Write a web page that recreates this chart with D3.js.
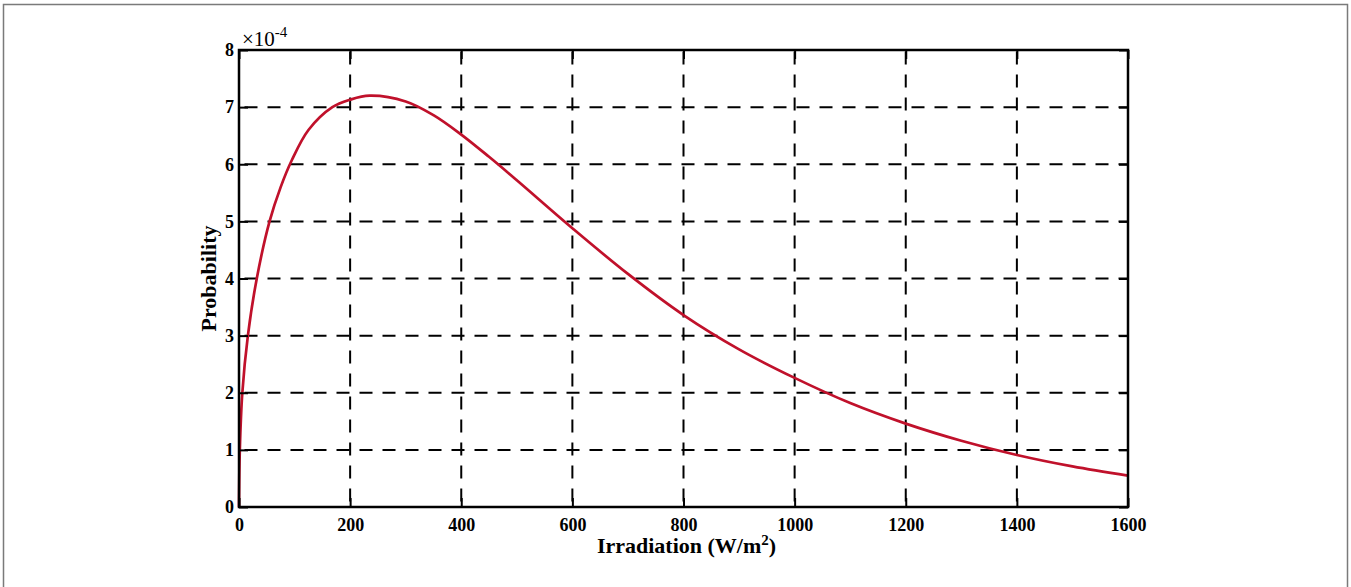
<!DOCTYPE html>
<html>
<head>
<meta charset="utf-8">
<script src="https://cdn.jsdelivr.net/npm/d3@7"></script>
<style>
  body { margin: 0; background: #fff; }
  text { font-family: "Liberation Serif", "Times New Roman", serif; }
</style>
</head>
<body>
<svg id="chart" width="1351" height="587"></svg>
<script>
// values (probability in units of 1e-4)
var irradiation = [0, 1.5, 6, 16, 32, 55, 75, 95, 125, 168, 200, 235, 300, 350, 400, 450, 500, 600, 700, 800, 900, 1000, 1100, 1200, 1300, 1400, 1500, 1600];
var probability = [0, 1, 2, 3, 4, 5, 5.6, 6.07, 6.6, 7.0, 7.13, 7.2, 7.1, 6.86, 6.52, 6.13, 5.72, 4.88, 4.08, 3.36, 2.76, 2.26, 1.82, 1.46, 1.16, 0.91, 0.71, 0.55];
var xTicks = [0, 200, 400, 600, 800, 1000, 1200, 1400, 1600];
var yTicks = [0, 1, 2, 3, 4, 5, 6, 7, 8];

var svg = d3.select("#chart"),
    width = +svg.attr("width"),
    height = +svg.attr("height");

var plotLeft = 239, plotRight = 1128, plotTop = 50, plotBottom = 507;

// outer frame of the figure
svg.append("rect")
    .attr("x", 3.5).attr("y", 4.5)
    .attr("width", width - 7).attr("height", height + 20)
    .attr("fill", "none")
    .attr("stroke", "#7a7a7a")
    .attr("stroke-width", 1.5);

var x = d3.scaleLinear().domain([0, 1600]).range([plotLeft, plotRight]);
var y = d3.scaleLinear().domain([0, 8]).range([plotBottom, plotTop]);

// dashed grid
var grid = svg.append("g")
    .attr("stroke", "#000")
    .attr("stroke-width", 2)
    .attr("stroke-dasharray", "13,10")
    .attr("stroke-dashoffset", 17.5);

grid.selectAll("line.gx")
    .data(xTicks.slice(1, -1))
    .enter().append("line")
    .attr("class", "gx")
    .attr("x1", function(d) { return x(d); })
    .attr("x2", function(d) { return x(d); })
    .attr("y1", plotBottom)
    .attr("y2", plotTop);

grid.selectAll("line.gy")
    .data(yTicks.slice(1, -1))
    .enter().append("line")
    .attr("class", "gy")
    .attr("x1", plotLeft)
    .attr("x2", plotRight)
    .attr("y1", function(d) { return y(d); })
    .attr("y2", function(d) { return y(d); });

// curve
var line = d3.line()
    .x(function(d, i) { return x(irradiation[i]); })
    .y(function(d) { return y(d); })
    .curve(d3.curveCatmullRom.alpha(0.5));

svg.append("path")
    .datum(probability)
    .attr("d", line)
    .attr("fill", "none")
    .attr("stroke", "#c0112b")
    .attr("stroke-width", 2.7)
    .attr("stroke-linejoin", "round");

// axes with inward ticks
function styleAxis(g) {
    g.select(".domain").remove();
    g.selectAll(".tick line").attr("stroke", "#000").attr("stroke-width", 2);
    g.selectAll(".tick text")
        .attr("fill", "#000")
        .style("font-family", "'Liberation Serif', serif")
        .style("font-weight", "bold")
        .style("font-size", "18px");
}

var fmt = d3.format("d");

svg.append("g")
    .attr("transform", "translate(0," + plotBottom + ")")
    .call(d3.axisBottom(x).tickValues(xTicks).tickFormat(fmt).tickSizeInner(-9).tickSizeOuter(0).tickPadding(11))
    .call(styleAxis);

svg.append("g")
    .attr("transform", "translate(0," + plotTop + ")")
    .call(d3.axisTop(x).tickValues(xTicks).tickSizeInner(-9).tickSizeOuter(0).tickFormat(""))
    .call(styleAxis);

svg.append("g")
    .attr("transform", "translate(" + plotLeft + ",0)")
    .call(d3.axisLeft(y).tickValues(yTicks).tickFormat(fmt).tickSizeInner(-9).tickSizeOuter(0).tickPadding(5))
    .call(styleAxis);

svg.append("g")
    .attr("transform", "translate(" + plotRight + ",0)")
    .call(d3.axisRight(y).tickValues(yTicks).tickSizeInner(-9).tickSizeOuter(0).tickFormat(""))
    .call(styleAxis);

// box
svg.append("rect")
    .attr("x", plotLeft).attr("y", plotTop)
    .attr("width", plotRight - plotLeft).attr("height", plotBottom - plotTop)
    .attr("fill", "none")
    .attr("stroke", "#000")
    .attr("stroke-width", 2.5);

// exponent label
var expo = svg.append("text")
    .attr("x", 242).attr("y", 46)
    .style("font-size", "21px");
expo.append("tspan").text("\u00d710");
expo.append("tspan").attr("dy", -9).style("font-size", "15px").text("-4");

// axis titles
var xt = svg.append("text")
    .attr("x", (plotLeft + plotRight) / 2 + 3)
    .attr("y", 553)
    .attr("text-anchor", "middle")
    .style("font-size", "22px")
    .style("font-weight", "bold");
xt.append("tspan").text("Irradiation (W/m");
xt.append("tspan").attr("dy", -8).style("font-size", "15px").text("2");
xt.append("tspan").attr("dy", 8).text(")");

svg.append("text")
    .attr("transform", "translate(216," + ((plotTop + plotBottom) / 2) + ") rotate(-90)")
    .attr("text-anchor", "middle")
    .style("font-size", "22px")
    .style("font-weight", "bold")
    .text("Probability");
</script>
</body>
</html>
